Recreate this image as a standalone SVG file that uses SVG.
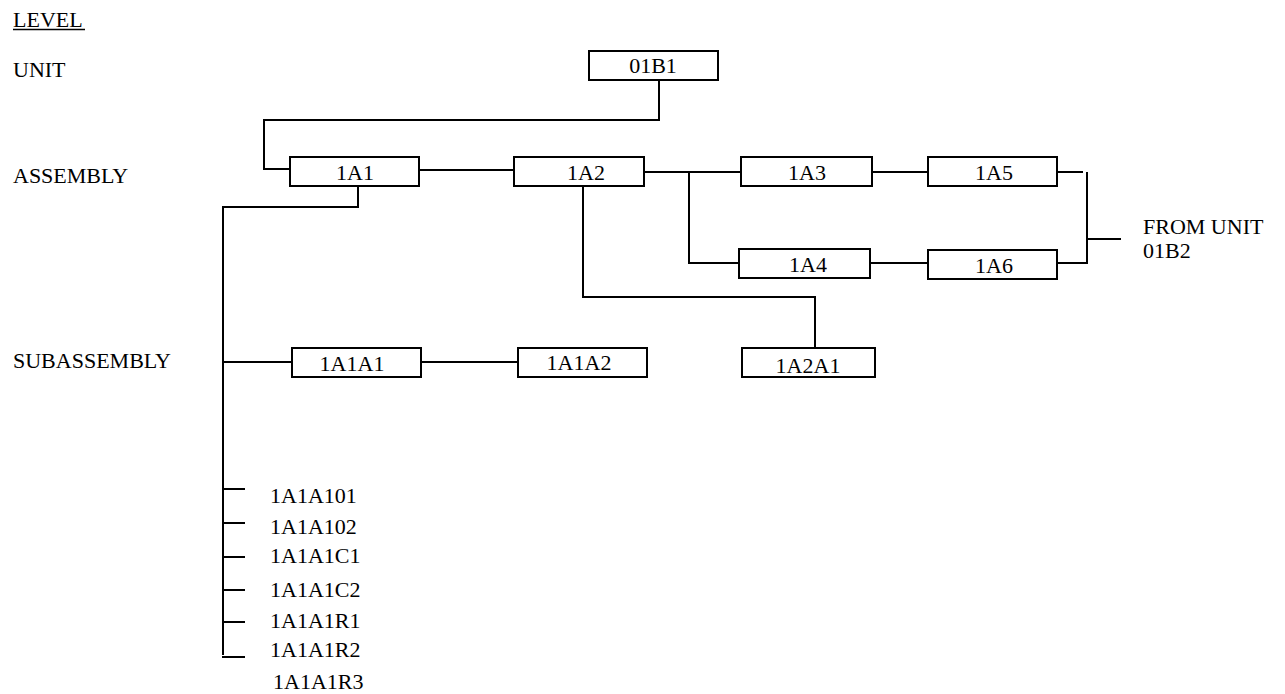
<svg xmlns="http://www.w3.org/2000/svg" width="1285" height="694" viewBox="0 0 1285 694">
<style>
text{font-family:"Liberation Serif","Times New Roman",serif;font-size:22px;fill:#000}
.c{text-anchor:middle}
rect{fill:#fff;stroke:#000;stroke-width:2}
.ln line,.ln polyline{stroke:#000;stroke-width:2;fill:none}
</style>
<rect x="0" y="0" width="1285" height="694" style="stroke:none"/>
<g id="levels">
<text x="13" y="27">LEVEL</text>
<line x1="13" y1="29.5" x2="85" y2="29.5" stroke="#000" stroke-width="1.5"/>
<text x="13" y="77">UNIT</text>
<text x="13" y="183">ASSEMBLY</text>
<text x="13" y="368">SUBASSEMBLY</text>
</g>
<g id="connectors" class="ln">
<polyline points="659,80 659,120 264,120 264,169 290,169"/>
<line x1="419" y1="170" x2="514" y2="170"/>
<line x1="644" y1="172" x2="741" y2="172"/>
<polyline points="689,172 689,263 739,263"/>
<line x1="872" y1="172" x2="928" y2="172"/>
<line x1="870" y1="263" x2="928" y2="263"/>
<line x1="1057" y1="172" x2="1083" y2="172"/>
<polyline points="1057,263 1087,263 1087,172"/>
<line x1="1087" y1="239" x2="1121" y2="239"/>
<polyline points="583,186 583,297 815,297 815,348"/>
<polyline points="358,186 358,207 223,207 223,655"/>
<line x1="223" y1="362" x2="292" y2="362"/>
<line x1="421" y1="362" x2="518" y2="362"/>
<line x1="223" y1="489" x2="245" y2="489"/>
<line x1="223" y1="523" x2="245" y2="523"/>
<line x1="223" y1="557" x2="245" y2="557"/>
<line x1="223" y1="590" x2="245" y2="590"/>
<line x1="223" y1="622" x2="245" y2="622"/>
<line x1="222" y1="657" x2="245" y2="657"/>
</g>
<g id="n01B1"><rect x="589" y="51" width="129" height="29"/><text class="c" x="653" y="73">01B1</text></g>
<g id="n1A1"><rect x="290" y="157" width="129" height="29"/><text class="c" x="355" y="180">1A1</text></g>
<g id="n1A2"><rect x="514" y="157" width="130" height="29"/><text class="c" x="586" y="180">1A2</text></g>
<g id="n1A3"><rect x="741" y="157" width="131" height="29"/><text class="c" x="807" y="180">1A3</text></g>
<g id="n1A5"><rect x="928" y="157" width="129" height="29"/><text class="c" x="994" y="180">1A5</text></g>
<g id="n1A4"><rect x="739" y="249" width="131" height="29"/><text class="c" x="808" y="272">1A4</text></g>
<g id="n1A6"><rect x="928" y="250" width="129" height="29"/><text class="c" x="994" y="273">1A6</text></g>
<g id="n1A1A1"><rect x="292" y="348" width="129" height="29"/><text class="c" x="352" y="371">1A1A1</text></g>
<g id="n1A1A2"><rect x="518" y="348" width="129" height="29"/><text class="c" x="579" y="370">1A1A2</text></g>
<g id="n1A2A1"><rect x="742" y="348" width="133" height="29"/><text class="c" x="808" y="373">1A2A1</text></g>
<g id="fromunit"><text x="1143" y="234">FROM UNIT</text><text x="1143" y="258">01B2</text></g>
<g id="parts">
<text x="270" y="503">1A1A101</text>
<text x="270" y="534">1A1A102</text>
<text x="270" y="563">1A1A1C1</text>
<text x="270" y="597">1A1A1C2</text>
<text x="270" y="628">1A1A1R1</text>
<text x="270" y="657">1A1A1R2</text>
<text x="273" y="689">1A1A1R3</text>
</g>
</svg>
